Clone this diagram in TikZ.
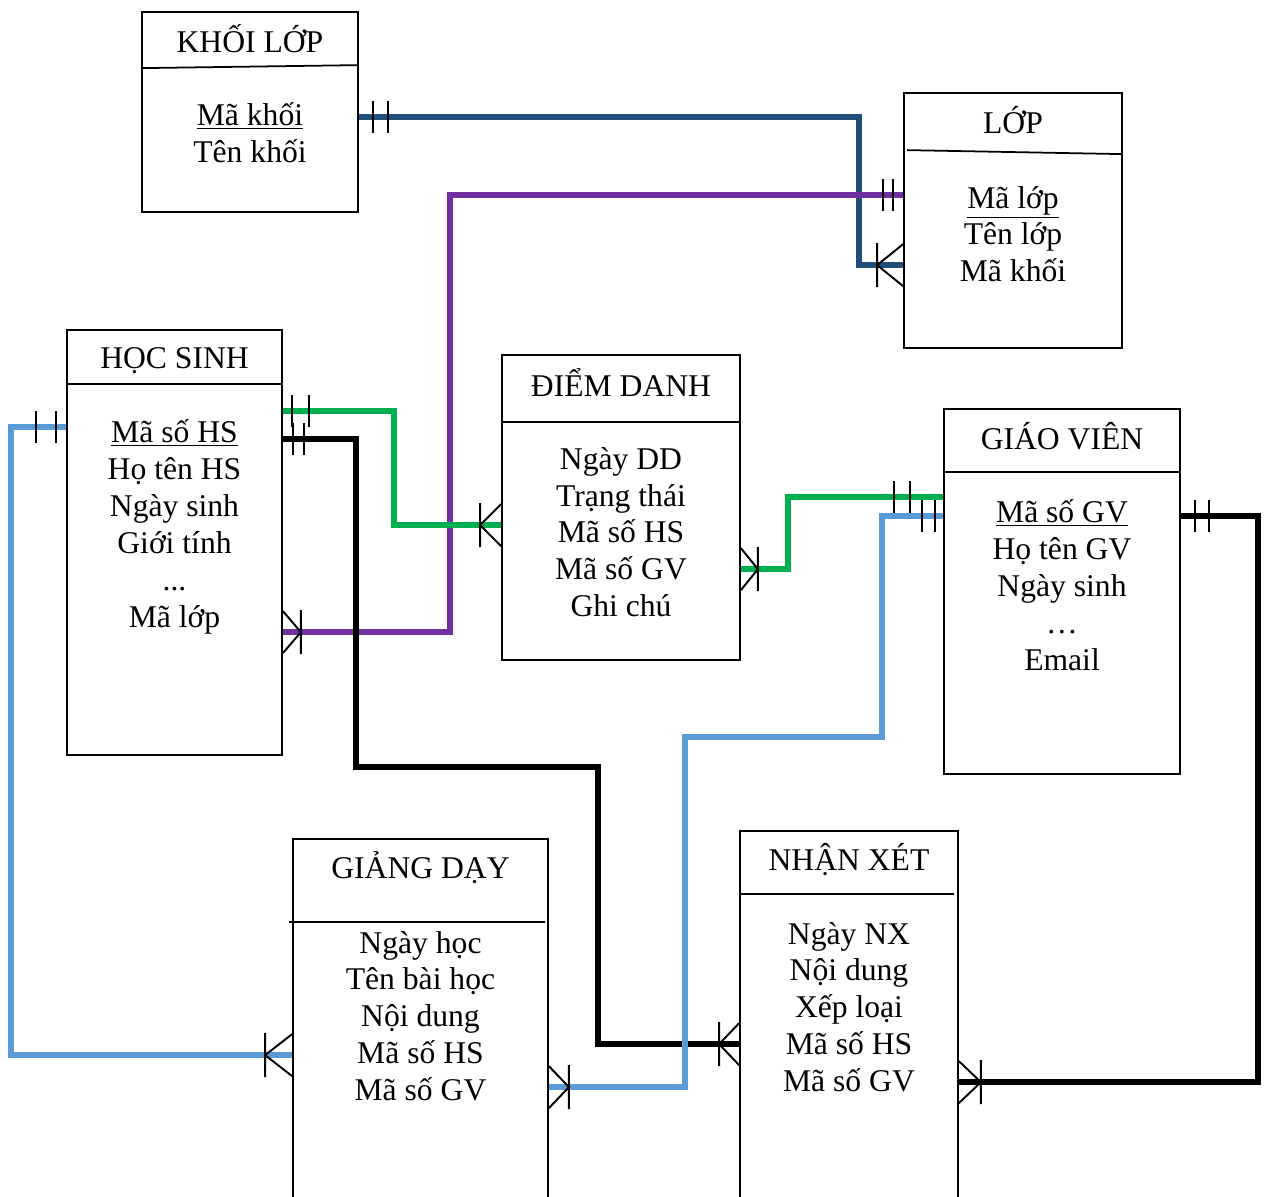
\documentclass[tikz,border=0pt]{standalone}
\usepackage{fontspec}
\setmainfont{Liberation Serif}
\usetikzlibrary{calc,fit}
\definecolor{navyrel}{HTML}{1F4E79}
\definecolor{purplerel}{HTML}{7030A0}
\definecolor{greenrel}{HTML}{00B050}
\definecolor{bluerel}{HTML}{5B9BD5}
\tikzset{
  entity/.style={
    draw,
    line width=1pt,
    inner sep=0pt
  },
  title/.style={
    font=\fontsize{18}{21}\selectfont,
    inner sep=0pt
  },
  attrs/.style={
    font=\fontsize{18}{21}\selectfont,
    align=center,
    inner sep=0pt
  },
  rel/.style={
    line width=3.2pt
  },
  mk/.style={
    line width=1.1pt,
    black
  },
}
% crow's foot (many) and double bar (one and only one)
\newcommand{\many}[2]{\draw[mk] ($(#1)+(0,-21)$) -- ($(#1)+(#2,0)$) -- ($(#1)+(0,21)$) ($(#1)+(#2,-22)$) -- ($(#1)+(#2,22)$);}
\newcommand{\one}[3]{\draw[mk] ($(#1)+(#2,-16)$) -- ++(0,32) ($(#1)+(#3,-16)$) -- ++(0,32);}
\begin{document}
\begin{tikzpicture}[x=0.02cm,y=-0.02cm]
  \useasboundingbox (0,0) rectangle (1266,1196);
  % entities
  \node[entity, fit={(142,12) (358,212)}] (kl) {};
  \draw[line width=1pt] ($(kl.north west)+(0,57)$) -- ($(kl.north east)+(0,54)$);
  \node[title] at ($(kl.north)+(0,28)$) {KHỐI LỚP};
  \node[attrs] at ($(kl.north)+(0,122)$) {\underline{Mã khối}\\Tên khối};

  \node[entity, fit={(904,93) (1122,348)}] (lop) {};
  \draw[line width=1pt] ($(lop.north west)+(4,58)$) -- ($(lop.north east)+(0,62)$);
  \node[title] at ($(lop.north)+(0,28)$) {LỚP};
  \node[attrs] at ($(lop.north)+(0,142)$) {\underline{Mã lớp}\\Tên lớp\\Mã khối};

  \node[entity, fit={(67,330) (282,755)}] (hs) {};
  \draw[line width=1pt] ($(hs.north west)+(0,55)$) -- ($(hs.north east)+(0,55)$);
  \node[title] at ($(hs.north)+(0,32)$) {HỌC SINH};
  \node[attrs] at ($(hs.north)+(0,198)$) {\underline{Mã số HS}\\Họ tên HS\\Ngày sinh\\Giới tính\\...\\Mã lớp};

  \node[entity, fit={(502,355) (740,660)}] (dd) {};
  \draw[line width=1pt] ($(dd.north west)+(0,68)$) -- ($(dd.north east)+(0,68)$);
  \node[title] at ($(dd.north)+(0,28)$) {ĐIỂM DANH};
  \node[attrs] at ($(dd.north)+(0,178)$) {Ngày DD\\Trạng thái\\Mã số HS\\Mã số GV\\Ghi chú};

  \node[entity, fit={(944,409) (1180,774)}] (gv) {};
  \draw[line width=1pt] ($(gv.north west)+(0,64)$) -- ($(gv.north east)+(0,64)$);
  \node[title] at ($(gv.north)+(0,28)$) {GIÁO VIÊN};
  \node[attrs] at ($(gv.north)+(0,177)$) {\underline{Mã số GV}\\Họ tên GV\\Ngày sinh\\\ldots\\Email};

  \node[entity, fit={(293,839) (548,1200)}] (gd) {};
  \draw[line width=1pt] ($(gd.north west)+(-3,84)$) -- ($(gd.north east)+(-4,84)$);
  \node[title] at ($(gd.north)+(0,30)$) {GIẢNG DẠY};
  \node[attrs] at ($(gd.north)+(0,178)$) {Ngày học\\Tên bài học\\Nội dung\\Mã số HS\\Mã số GV};

  \node[entity, fit={(740,831) (958,1200)}] (nx) {};
  \draw[line width=1pt] ($(nx.north west)+(0,64)$) -- ($(nx.north east)+(-5,64)$);
  \node[title] at ($(nx.north)+(0,29)$) {NHẬN XÉT};
  \node[attrs] at ($(nx.north)+(0,177)$) {Ngày NX\\Nội dung\\Xếp loại\\Mã số HS\\Mã số GV};

  % connector ends
  \coordinate (kl-r) at ($(kl.north east)+(0,106)$);
  \coordinate (lop-l1) at ($(lop.north west)+(0,103)$);
  \coordinate (lop-l2) at ($(lop.north west)+(0,173)$);
  \coordinate (hs-r1) at ($(hs.north east)+(0,82)$);
  \coordinate (hs-r2) at ($(hs.north east)+(0,110)$);
  \coordinate (hs-r3) at ($(hs.north east)+(0,303)$);
  \coordinate (hs-l) at ($(hs.north west)+(0,98)$);
  \coordinate (dd-l) at ($(dd.north west)+(0,171)$);
  \coordinate (dd-r) at ($(dd.north east)+(0,215)$);
  \coordinate (gv-l1) at ($(gv.north west)+(0,89)$);
  \coordinate (gv-l2) at ($(gv.north west)+(0,108)$);
  \coordinate (gv-r) at ($(gv.north east)+(0,108)$);
  \coordinate (gd-l) at ($(gd.north west)+(0,217)$);
  \coordinate (gd-r) at ($(gd.north east)+(0,249)$);
  \coordinate (nx-l) at ($(nx.north west)+(0,214)$);
  \coordinate (nx-r) at ($(nx.north east)+(0,252)$);

  % relationships
  \draw[rel, navyrel] (kl-r) -- ++(500,0) |- (lop-l2);
  \draw[rel, purplerel] (lop-l1) -- ++(-453,0) |- (hs-r3);
  \draw[rel, greenrel] (hs-r1) -- ++(111,0) |- (dd-l);
  \draw[rel] (hs-r2) -- ++(73,0) -- ++(0,328) -- ++(242,0) |- (nx-l);
  \draw[rel, bluerel] (hs-l) -- ++(-55,0) |- (gd-l);
  \draw[rel, greenrel] (dd-r) -- ++(47,0) |- (gv-l1);
  \draw[rel, bluerel] (gv-l2) -- ++(-61,0) -- ++(0,221) -- ++(-197,0) |- (gd-r);
  \draw[rel] (gv-r) -- ++(77,0) |- (nx-r);

  % cardinality marks
  \one{kl-r}{14}{29}
  \many{lop-l2}{-26}
  \one{lop-l1}{-20}{-10}
  \many{hs-r3}{18}
  \one{hs-r1}{9}{26}
  \many{dd-l}{-21}
  \one{hs-r2}{10}{21}
  \many{nx-l}{-20}
  \one{hs-l}{-30}{-10}
  \many{gd-l}{-27}
  \many{dd-r}{17}
  \one{gv-l1}{-49}{-33}
  \one{gv-l2}{-21}{-8}
  \many{gd-r}{20}
  \one{gv-r}{14}{28}
  \many{nx-r}{22}
\end{tikzpicture}
\end{document}
